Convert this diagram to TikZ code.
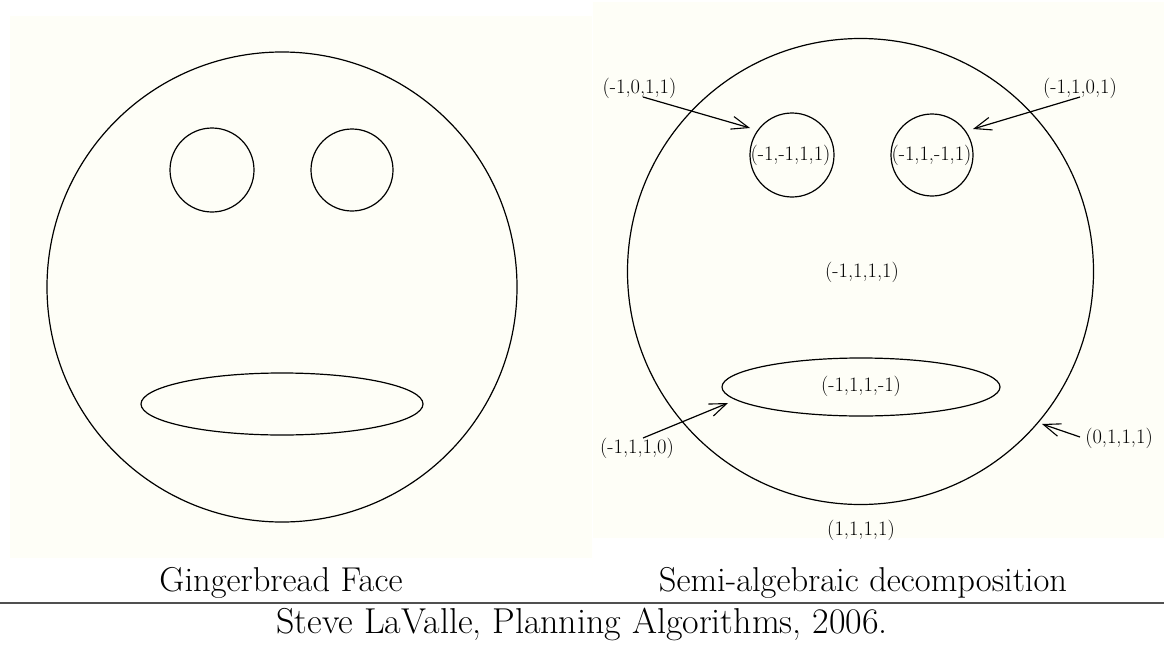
\documentclass[tikz,border=0pt]{standalone}
\usepackage{fontspec}
\usetikzlibrary{arrows.meta}
\definecolor{paper}{RGB}{254,254,247}
\definecolor{rulegray}{RGB}{80,80,80}
\tikzset{
  curve/.style={draw=black, line width=1.2pt},
  panel/.style={fill=paper, draw=none},
  lbl/.style={inner sep=0pt, font=\fontsize{20.5}{24}\selectfont},
  captiontext/.style={inner sep=0pt, font=\fontsize{34.5}{40}\selectfont},
  foottext/.style={inner sep=0pt, font=\fontsize{36}{42}\selectfont},
  arr/.style={line width=1.2pt, -{Straight Barb[length=17pt, width=13pt, line width=1.1pt]}}
}
\begin{document}
\begin{tikzpicture}[x=1pt, y=-1pt]
\useasboundingbox (0,0) rectangle (1164,645);
% panels
\fill[panel] (10,16) rectangle (592,558);
\fill[panel] (593,2) rectangle (1164,538);
% left face
\draw[curve] (282,287) circle[radius=235];
\draw[curve] (212,170) circle[radius=42];
\draw[curve] (352,170) circle[radius=41];
\draw[curve] (282,404) ellipse[x radius=141, y radius=31];
% right face
\draw[curve] (860.5,271.5) circle[radius=233];
\draw[curve] (792,155) circle[radius=42];
\draw[curve] (932,155) circle[radius=41];
\draw[curve] (861,387) ellipse[x radius=139, y radius=29];
% labels
\node[lbl] (a) at (639.5,88) {(-1,0,1,1)};
\node[lbl] (b) at (1080,88) {(-1,1,0,1)};
\node[lbl] (c) at (790.5,155) {(-1,-1,1,1)};
\node[lbl] (d) at (931.5,155) {(-1,1,-1,1)};
\node[lbl] (e) at (862,272) {(-1,1,1,1)};
\node[lbl] (f) at (861,386) {(-1,1,1,-1)};
\node[lbl] (g) at (637,448) {(-1,1,1,0)};
\node[lbl] (h) at (1119,438) {(0,1,1,1)};
\node[lbl] (i) at (861,530) {(1,1,1,1)};
% arrow ends
\coordinate (as) at (643,97);  \coordinate (at) at (750,128);
\coordinate (bs) at (1080,97); \coordinate (bt) at (973,129);
\coordinate (gs) at (643,438); \coordinate (gt) at (728,403);
\coordinate (hs) at (1080,437); \coordinate (ht) at (1042,424);
\draw[arr] (as) -- (at);
\draw[arr] (bs) -- (bt);
\draw[arr] (gs) -- (gt);
\draw[arr] (hs) -- (ht);
% captions
\node[captiontext] (capL) at (281,583) {Gingerbread Face};
\node[captiontext] (capR) at (863,583) {Semi-algebraic decomposition};
\draw[rulegray, line width=1.8pt] (0,603) -- (1164,603);
\node[foottext] (foot) at (582,624) {Steve LaValle, Planning Algorithms, 2006.};
\end{tikzpicture}
\end{document}
